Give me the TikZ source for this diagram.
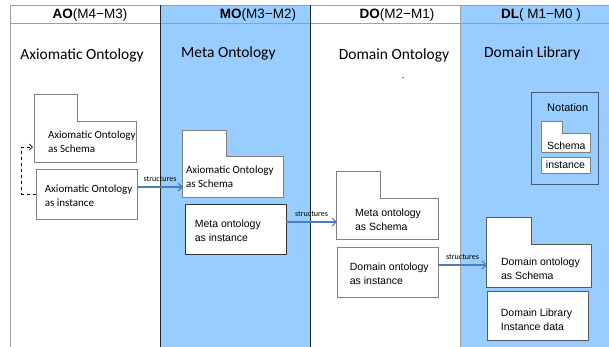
\documentclass[tikz,border=0pt]{standalone}
\usepackage{fontspec}
\setmainfont{Carlito}
\newfontfamily\arialfont{Liberation Sans}
\usetikzlibrary{positioning,arrows.meta}
\definecolor{colblue}{HTML}{99CCFF}
\definecolor{arrowblue}{HTML}{4A7EBB}
\definecolor{boxgray}{HTML}{7F7F7F}
\tikzset{
	gridline/.style={draw=gray!75, line width=0.8pt},
	sepline/.style={draw=black!85, line width=1pt},
	boxbody/.style={inner sep=0pt},
	boxline/.style={draw=boxgray, line width=0.7pt, fill=white},
	txt/.style={align=left, inner sep=0pt, anchor=west, font=\fontsize{11}{14}\selectfont},
	atxt/.style={align=left, inner sep=0pt, anchor=west, font=\arialfont\fontsize{10.5}{14}\selectfont},
	head/.style={font=\arialfont\fontsize{13.5}{15}\selectfont},
	title/.style={font=\fontsize{15.5}{18}\selectfont},
	flow/.style={draw=arrowblue, line width=1.1pt, -{Straight Barb[length=4pt]}},
	lbl/.style={font=\fontsize{8}{8}\selectfont, inner sep=1pt, above=4pt},
}
\begin{document}
\begin{tikzpicture}[x=1pt,y=-1pt]
	\useasboundingbox (0,0) rectangle (609,347);
	% columns
	\fill[colblue] (160,5) rectangle (310,347);
	\fill[colblue] (460,5) rectangle (609,347);
	\draw[gridline] (10,5) -- (609,5);
	\draw[gridline] (10,23) -- (609,23);
	\draw[gridline] (10,5) -- (10,347);
	\draw[sepline] (160,5) -- (160,347);
	\draw[sepline] (310,5) -- (310,347);
	\draw[gridline] (460,5) -- (460,347);

	\node[head] (hAO) at (90,15) {\textbf{AO}(M4−M3)};
	\node[head] (hMO) at (258,15) {\textbf{MO}(M3−M2)};
	\node[head] (hDO) at (397,15) {\textbf{DO}(M2−M1)};
	\node[head] (hDL) at (541,15) {\textbf{DL}( M1−M0 )};

	\node[title] (tAO) at (82,55) {Axiomatic Ontology};
	\node[title, anchor=west, inner sep=0pt] (tMO) at (181,53) {Meta Ontology};
	\node[title] (tDO) at (394,55) {Domain Ontology};
	\node[title, anchor=west, inner sep=0pt] (tDL) at (484,53) {Domain Library};
	\node[font=\fontsize{8}{8}\selectfont, inner sep=0pt] (dash) at (403,79) {-};

	% AO column
	\node[boxbody, minimum width=101pt, minimum height=40pt] (aoS) at (85.5,142) {};
	\draw[boxline] (aoS.south west) -- (aoS.north west) -- ++(0,-27) -| ++(43,27) -- (aoS.north east) -- (aoS.south east) -- cycle;
	\node[txt] (aoSt) at ([xshift=13pt]aoS.west) {Axiomatic Ontology\\as Schema};
	\node[boxline, boxbody, minimum width=101pt, minimum height=50pt] (aoI) at (86.5,194) {};
	\node[txt] (aoIt) at ([xshift=9pt,yshift=-2pt]aoI.west) {Axiomatic Ontology\\as instance};
	\draw[dashed, line width=0.6pt, -{Straight Barb[length=3pt]}] (aoI.west) -- ++(-14,0) |- ([xshift=-2pt,yshift=-5pt]aoS.west);

	% MO column
	\node[boxbody, minimum width=100pt, minimum height=40pt] (moS) at (233,177) {};
	\draw[boxline] (moS.south west) -- (moS.north west) -- ++(0,-26) -| ++(44,26) -- (moS.north east) -- (moS.south east) -- cycle;
	\node[txt] (moSt) at ([xshift=3pt]moS.west) {Axiomatic Ontology\\as Schema};
	\node[boxline, draw=black!80, boxbody, minimum width=101pt, minimum height=50pt] (moI) at (235.5,229) {};
	\node[atxt] (moIt) at ([xshift=10pt,yshift=-2pt]moI.west) {Meta ontology\\as instance};

	% DO column
	\node[boxbody, minimum width=101pt, minimum height=40pt] (doS) at (387.5,219) {};
	\draw[boxline] (doS.south west) -- (doS.north west) -- ++(0,-27) -| ++(44,27) -- (doS.north east) -- (doS.south east) -- cycle;
	\node[atxt] (doSt) at ([xshift=18pt,yshift=-1pt]doS.west) {Meta ontology\\as Schema};
	\node[boxline, boxbody, minimum width=101pt, minimum height=50pt] (doI) at (387.5,272) {};
	\node[atxt] (doIt) at ([xshift=13pt,yshift=-2pt]doI.west) {Domain ontology\\as instance};

	% DL column
	\node[boxbody, minimum width=104pt, minimum height=42pt] (dlS) at (539,266) {};
	\draw[boxline, draw=black!65] (dlS.south west) -- (dlS.north west) -- ++(0,-27) -| ++(45,27) -- (dlS.north east) -- (dlS.south east) -- cycle;
	\node[atxt] (dlSt) at ([xshift=14pt,yshift=-3pt]dlS.west) {Domain ontology\\as Schema};
	\node[boxline, draw=black!65, boxbody, minimum width=101pt, minimum height=49pt] (dlI) at (537.5,315.5) {};
	\node[atxt] (dlIt) at ([xshift=14pt,yshift=-4pt]dlI.west) {Domain Library\\Instance data};

	% notation
	\node[boxbody, draw=black!55!colblue, line width=0.8pt, minimum width=67pt, minimum height=92pt] (note) at (564.5,138) {};
	\node[atxt, font=\arialfont\fontsize{11}{13}\selectfont] (noteT) at (547,108) {Notation};
	\node[boxbody, minimum width=49pt, minimum height=18pt] (nS) at (565.5,143) {};
	\draw[boxline, line width=0.6pt] (nS.south west) -- (nS.north west) -- ++(0,-12) -| ++(21,12) -- (nS.north east) -- (nS.south east) -- cycle;
	\node[atxt, font=\arialfont\fontsize{10.5}{12}\selectfont] (nSt) at ([xshift=6pt,yshift=-3pt]nS.west) {Schema};
	\node[boxline, line width=0.6pt, boxbody, minimum width=49pt, minimum height=16pt, font=\arialfont\fontsize{10.5}{12}\selectfont] (nI) at (565.5,165) {instance};

	% structures arrows
	\draw[flow] ([yshift=7pt]aoI.east) -- ([yshift=7pt]aoI.east -| moS.west) node[lbl, midway] {structures};
	\draw[flow] ([yshift=7pt]moI.east) -- ([yshift=7pt]moI.east -| doS.west) node[lbl, midway] {structures};
	\draw[flow] ([yshift=7pt]doI.east) -- ([yshift=7pt]doI.east -| dlS.west) node[lbl, midway] {structures};
\end{tikzpicture}
\end{document}
